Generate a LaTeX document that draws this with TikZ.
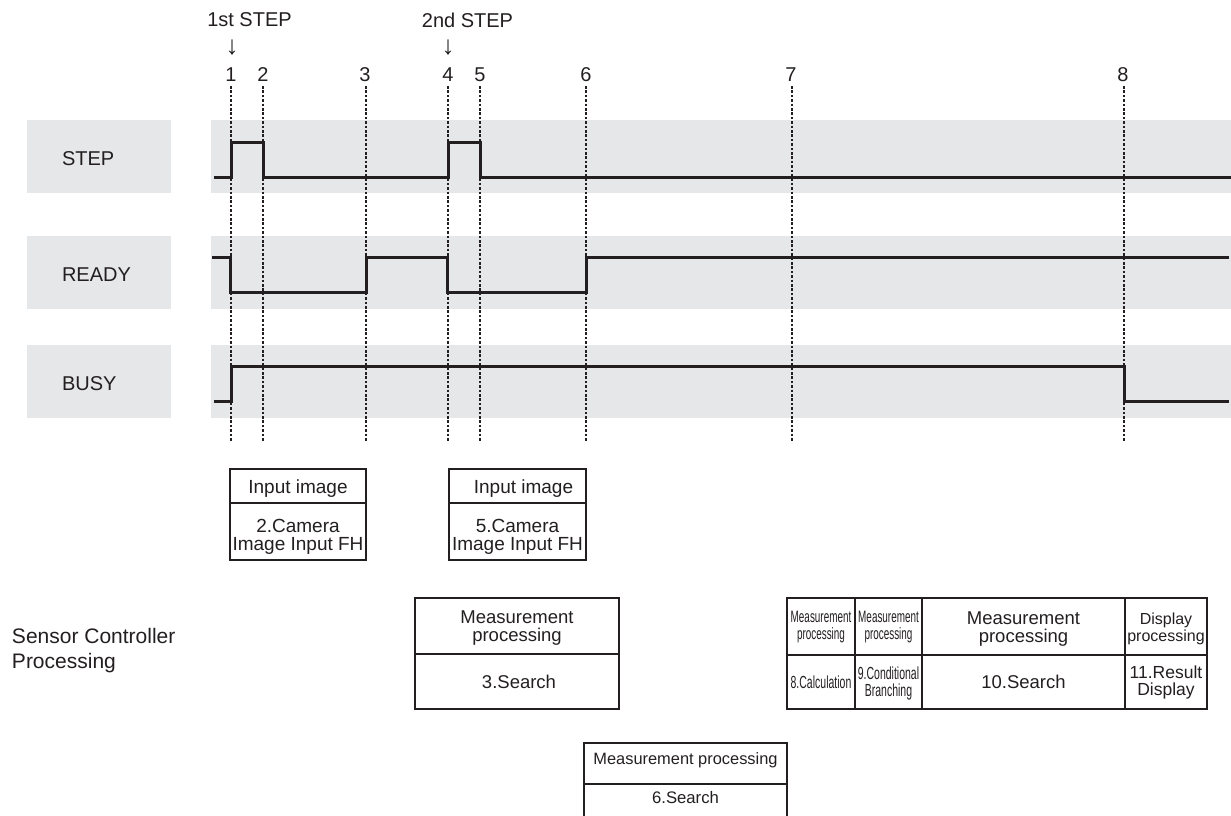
\documentclass[tikz,border=0pt]{standalone}
\usepackage{fontspec}
\setmainfont{Liberation Sans}
\newfontfamily\narrowfont[FakeStretch=0.6]{Liberation Sans}
\definecolor{ink}{HTML}{231F20}
\definecolor{band}{HTML}{E6E7E8}
\newcommand{\fsz}[2]{\fontsize{#1}{#2}\selectfont}
\begin{document}
\begin{tikzpicture}[x=1pt,y=-1pt,
  txt/.style={inner sep=0pt, outer sep=0pt, text=ink, align=center, anchor=north},
  lbl/.style={inner sep=0pt, outer sep=0pt, text=ink, font=\fsz{20}{22}},
  arr/.style={inner sep=0pt, outer sep=0pt, text=ink, font=\fsz{26}{28}},
  cell/.style={draw=ink, line width=2.7pt, inner sep=0pt, outer sep=0pt},
  sig/.style={draw=ink, line width=3pt, line join=miter},
  tick/.style={draw=ink, line width=1.3pt, dash pattern=on 2.6pt off 1.8pt},
]
\useasboundingbox (0,0) rectangle (1231,816);

% bands
\foreach \a/\b in {120/193, 236/309, 345/418} {
  \fill[band] (27,\a) rectangle (171,\b);
  \fill[band] (211,\a) rectangle (1231,\b);
}

% top labels
\node[lbl, anchor=north] (s1) at (249.5,13) {1st STEP};
\node[lbl, anchor=north] (s2) at (467.5,13) {2nd STEP};
\node[arr] (ar1) at (232,48) {↓};
\node[arr] (ar2) at (448,48) {↓};

% numbers and time markers
\foreach \x/\n in {231/1, 263/2, 365/3, 448/4, 480/5, 586/6, 791/7, 1123/8}
  \node[lbl, anchor=north] (n\n) at (\x,67.5) {\n};
\foreach \x in {231,263,366,448,480,586,792,1124}
  \draw[tick] (\x,86) -- (\x,441);

% row labels
\node[lbl, anchor=north west] (Lstep) at (62,151.7) {STEP};
\node[lbl, anchor=north west] (Lready) at (62,268) {READY};
\node[lbl, anchor=north west] (Lbusy) at (62,376.7) {BUSY};
\node[txt, anchor=north west, align=left, font=\fsz{21}{25}] (Lsc) at (12,628) {Sensor Controller\\Processing};

% signals
\draw[sig] (214,177) -- (231,177) -- (231,142) -- (263,142) -- (263,177) -- (448,177) -- (448,142) -- (480,142) -- (480,177) -- (1231,177);
\draw[sig] (212,257) -- (230,257) -- (230,292) -- (366,292) -- (366,257) -- (447,257) -- (447,292) -- (586,292) -- (586,257) -- (1229,257);
\draw[sig] (214,401) -- (231,401) -- (231,366) -- (1124,366) -- (1124,401) -- (1229,401);

% box A
\node[cell, minimum width=136pt, minimum height=34pt] (A1) at (298,486) {};
\node[cell, minimum width=136pt, minimum height=57pt] (A2) at (298,531.5) {};
\node[txt, font=\fsz{19}{18}] (tA1) at (298,480) {Input image};
\node[txt, font=\fsz{19}{18}] (tA2) at (298,519) {2.Camera\\Image Input FH};

% box B
\node[cell, minimum width=137pt, minimum height=34pt] (B1) at (517.5,486) {};
\node[cell, minimum width=137pt, minimum height=57pt] (B2) at (517.5,531.5) {};
\node[txt, font=\fsz{19}{18}] (tB1) at (523.5,480) {Input image};
\node[txt, font=\fsz{19}{18}] (tB2) at (517.5,519) {5.Camera\\Image Input FH};

% box C
\node[cell, minimum width=204pt, minimum height=56pt] (C1) at (517,626) {};
\node[cell, minimum width=204pt, minimum height=55pt] (C2) at (517,681.5) {};
\node[txt, font=\fsz{18.5}{18}] (tC1) at (517,611) {Measurement\\processing};
\node[txt, font=\fsz{18.5}{18}] (tC2) at (519,675) {3.Search};

% box D
\node[cell, minimum width=68pt, minimum height=57pt] (D11) at (821,626.5) {};
\node[cell, minimum width=67pt, minimum height=57pt] (D12) at (888.5,626.5) {};
\node[cell, minimum width=203pt, minimum height=57pt] (D13) at (1023.5,626.5) {};
\node[cell, minimum width=82pt, minimum height=57pt] (D14) at (1166,626.5) {};
\node[cell, minimum width=68pt, minimum height=54pt] (D21) at (821,682) {};
\node[cell, minimum width=67pt, minimum height=54pt] (D22) at (888.5,682) {};
\node[cell, minimum width=203pt, minimum height=54pt] (D23) at (1023.5,682) {};
\node[cell, minimum width=82pt, minimum height=54pt] (D24) at (1166,682) {};
\node[txt, font=\narrowfont\fsz{16.5}{17}] (tD11) at (821,611) {Measurement\\processing};
\node[txt, font=\narrowfont\fsz{16.5}{17}] (tD12) at (888.5,611) {Measurement\\processing};
\node[txt, font=\fsz{18.5}{18}] (tD13) at (1023.5,612) {Measurement\\processing};
\node[txt, font=\fsz{16}{17}] (tD14) at (1166,613) {Display\\processing};
\node[txt, font=\narrowfont\fsz{17.5}{17}] (tD21) at (821,676) {8.Calculation};
\node[txt, font=\narrowfont\fsz{17.5}{17}] (tD22) at (888.5,667) {9.Conditional\\Branching};
\node[txt, font=\fsz{18.5}{18}] (tD23) at (1023.5,675) {10.Search};
\node[txt, font=\fsz{17.5}{16.5}] (tD24) at (1166,666) {11.Result\\Display};

% box E
\node[cell, minimum width=203pt, minimum height=41pt] (E1) at (685.5,763.5) {};
\draw[cell] (E1.south west) -- (E1.south west |- 0,822);
\draw[cell] (E1.south east) -- (E1.south east |- 0,822);
\node[txt, font=\fsz{16.4}{18}] (tE1) at (685.5,753) {Measurement processing};
\node[txt, font=\fsz{16.7}{18}] (tE2) at (685.5,791.5) {6.Search};
\end{tikzpicture}
\end{document}
